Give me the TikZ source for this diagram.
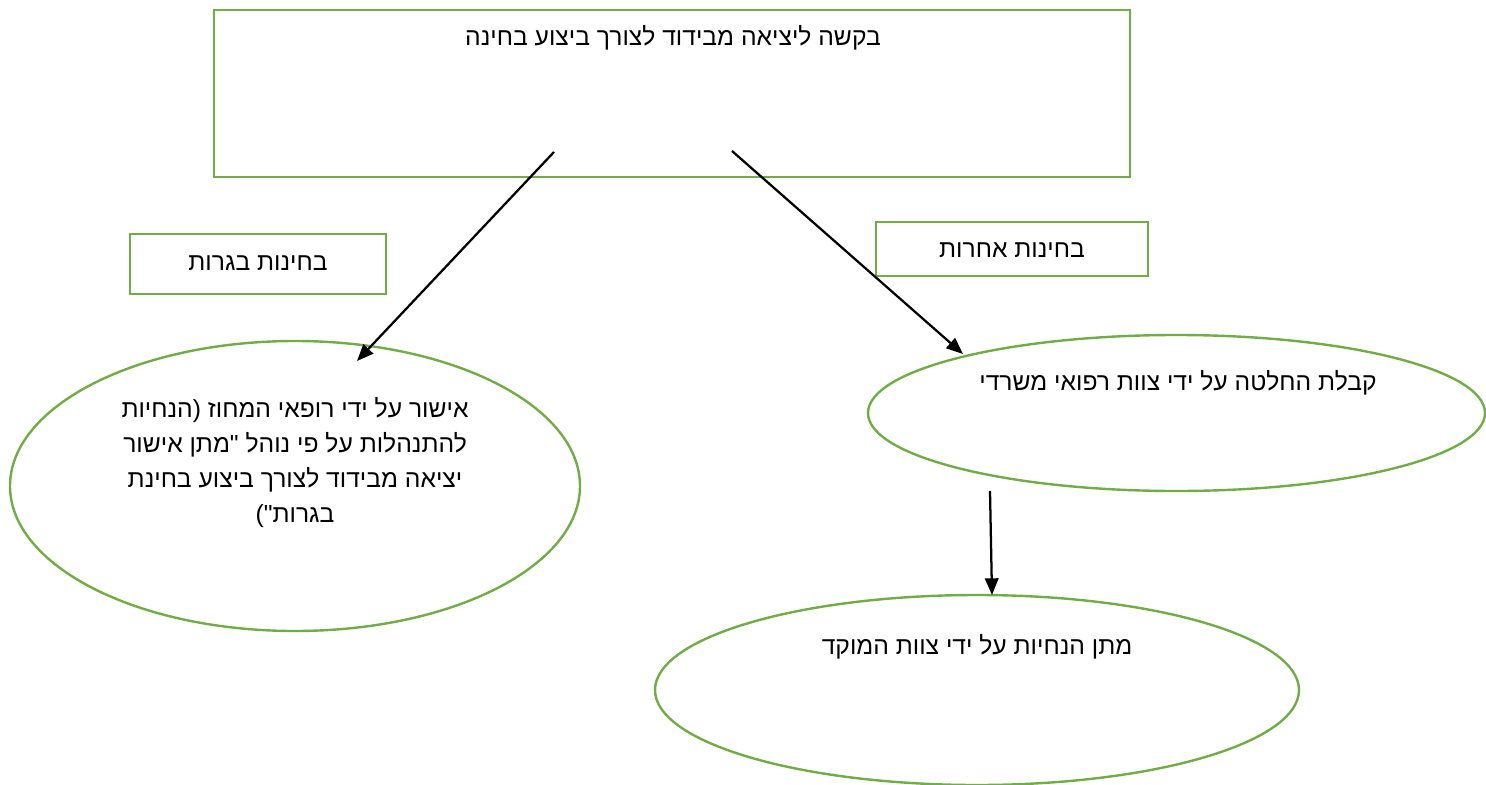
\documentclass[tikz,border=0pt]{standalone}
\usepackage{fontspec}
\setmainfont{Liberation Sans}
\newfontfamily\hebfont[Script=Hebrew]{Liberation Sans}
\TeXXeTstate=1
\usetikzlibrary{shapes.geometric,arrows.meta}
\definecolor{boxgreen}{HTML}{70AD47}
\tikzset{
  greenshape/.style={draw=boxgreen, line width=1.8pt, inner sep=0pt},
  greenrect/.style={greenshape, rectangle},
  greenell/.style={greenshape, ellipse},
  heb/.style={font=\hebfont\fontsize{18.5}{26.25}\selectfont, inner sep=0pt, align=center},
  arr/.style={line width=1.7pt, -{Triangle[length=12.5pt,width=10pt]}},
}
\begin{document}
\begin{tikzpicture}[x=0.75pt,y=-0.75pt]
\useasboundingbox (0,0) rectangle (1486,785);
% shapes
\node[greenrect, minimum width=687pt, minimum height=125.25pt] (top) at (672,93.5) {};
\node[greenrect, minimum width=192pt, minimum height=45pt] (bagrut) at (258,264) {};
\node[greenrect, minimum width=204pt, minimum height=40.5pt] (other) at (1012,249) {};
\node[greenell, minimum width=427.5pt, minimum height=217.5pt] (left) at (295,486) {};
\node[greenell, minimum width=462.75pt, minimum height=117pt] (right) at (1176.5,413) {};
\node[greenell, minimum width=483pt, minimum height=142.5pt] (bottom) at (977,690) {};
% texts
\node[heb] (toptxt) at (673,38) {\beginR בקשה ליציאה מבידוד לצורך ביצוע בחינה\endR};
\node[heb] (bagruttxt) at (258,263) {\beginR בחינות בגרות\endR};
\node[heb] (othertxt) at (1012,250) {\beginR בחינות אחרות\endR};
\node[heb] (lefttxt) at (295,463) {\beginR אישור על ידי רופאי המחוז (הנחיות\endR\\
\beginR להתנהלות על פי נוהל "מתן אישור\endR\\
\beginR יציאה מבידוד לצורך ביצוע בחינת\endR\\
\beginR בגרות")\endR};
\node[heb] (righttxt) at (1178,383) {\beginR קבלת החלטה על ידי צוות רפואי משרדי\endR};
\node[heb] (bottomtxt) at (977,647) {\beginR מתן הנחיות על ידי צוות המוקד\endR};
% connectors
\coordinate (a1s) at (554,152);
\coordinate (a1e) at (357,361);
\coordinate (a2s) at (732,151);
\coordinate (a2e) at (963,354);
\coordinate (a3s) at (990,491);
\coordinate (a3e) at (992,595);
\draw[arr] (a1s) -- (a1e);
\draw[arr] (a2s) -- (a2e);
\draw[arr] (a3s) -- (a3e);
\end{tikzpicture}
\end{document}
